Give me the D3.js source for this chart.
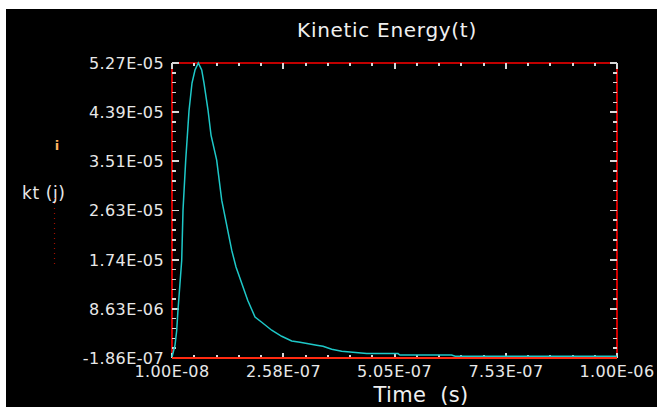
<!DOCTYPE html>
<html>
<head>
<meta charset="utf-8">
<script src="https://cdnjs.cloudflare.com/ajax/libs/d3/7.8.5/d3.min.js"></script>
<style>
  body { margin: 0; background: #ffffff; }
  svg { display: block; }
  text { font-family: "DejaVu Sans", Verdana, sans-serif; }
</style>
</head>
<body>
<div class="chart"></div>
<script>
// kinetic energy over time
var timeValues = [1.0e-8, 1.67e-8, 2.05e-8, 2.33e-8, 3.16e-8, 3.45e-8, 4.05e-8, 4.78e-8, 5.45e-8,
                  6.12e-8, 6.85e-8, 7.61e-8, 8.12e-8, 9.01e-8, 9.68e-8, 1.094e-7, 1.206e-7,
                  1.428e-7, 1.524e-7, 1.651e-7, 1.784e-7, 1.947e-7, 2.096e-7, 2.318e-7, 2.54e-7,
                  2.763e-7, 2.948e-7, 3.319e-7, 3.459e-7, 3.653e-7, 3.875e-7, 4.432e-7, 5.128e-7,
                  5.17e-7, 6.32e-7, 6.40e-7, 1.0e-6];
var energyValues = [0, 2.09e-6, 4.79e-6, 8.37e-6, 1.735e-5, 2.632e-5, 3.529e-5, 4.409e-5, 4.911e-5,
                    5.145e-5, 5.27e-5, 5.145e-5, 4.911e-5, 4.427e-5, 3.978e-5, 3.529e-5, 2.811e-5,
                    1.914e-5, 1.614e-5, 1.322e-5, 1.017e-5, 7.17e-6, 6.22e-6, 4.79e-6, 3.71e-6,
                    2.86e-6, 2.63e-6, 2.09e-6, 1.91e-6, 1.38e-6, 1.02e-6, 0.60e-6, 0.60e-6,
                    0.35e-6, 0.35e-6, 0.12e-6, 0.12e-6];

var xTickLabels = ["1.00E-08", "2.58E-07", "5.05E-07", "7.53E-07", "1.00E-06"];
var yTickLabels = ["-1.86E-07", "8.63E-06", "1.74E-05", "2.63E-05", "3.51E-05", "4.39E-05", "5.27E-05"];

var xTicks = xTickLabels.map(Number);
var yTicks = yTickLabels.map(Number);

var W = 657, H = 407;
var pLeft = 172, pRight = 617, pTop = 63, pBottom = 358;

var svg = d3.select(".chart").append("svg")
    .attr("width", W)
    .attr("height", H);

svg.append("rect")
    .attr("x", 6).attr("y", 9)
    .attr("width", W - 6).attr("height", H - 9)
    .attr("fill", "#000000");

var x = d3.scaleLinear()
    .domain([xTicks[0], xTicks[xTicks.length - 1]])
    .range([pLeft, pRight]);

var y = d3.scaleLinear()
    .domain([yTicks[0], yTicks[yTicks.length - 1]])
    .range([pBottom, pTop]);

// minor ticks between the majors
function minors(ticks, n)
{
    var out = [];
    for (var i = 0; i < ticks.length - 1; i++)
        for (var j = 1; j < n; j++)
            out.push(ticks[i] + (ticks[i + 1] - ticks[i]) * j / n);
    return out;
}
var xMinor = minors(xTicks, 5);
var yMinor = minors(yTicks, 5);

// frame
var frame = svg.append("g").attr("shape-rendering", "crispEdges");
frame.append("line").attr("x1", pLeft).attr("x2", pRight).attr("y1", pTop).attr("y2", pTop)
    .attr("stroke", "#c00000").attr("stroke-width", 2);
frame.append("line").attr("x1", pRight).attr("x2", pRight).attr("y1", pTop).attr("y2", pBottom)
    .attr("stroke", "#d00000").attr("stroke-width", 2);
frame.append("line").attr("x1", pLeft).attr("x2", pLeft).attr("y1", pTop).attr("y2", pBottom)
    .attr("stroke", "#d00000").attr("stroke-width", 2);

// tick marks
var tickColor = "#d8d8d8";
function tickMarks(vals, len, side)
{
    frame.selectAll(null)
        .data(vals)
        .enter()
            .append("line")
            .attr("stroke", tickColor)
            .attr("stroke-width", side == "top" || side == "bottom" ? 2 : 1.5)
            .attr("x1", function (d) { return side == "left" ? pLeft : side == "right" ? pRight : x(d); })
            .attr("x2", function (d) { return side == "left" ? pLeft + len : side == "right" ? pRight - len : x(d); })
            .attr("y1", function (d) { return side == "top" ? pTop : side == "bottom" ? pBottom : y(d); })
            .attr("y2", function (d) { return side == "top" ? pTop + len : side == "bottom" ? pBottom - len : y(d); });
}
tickMarks(yMinor, 4, "left");
tickMarks(yTicks, 7, "left");
tickMarks(yMinor, 4, "right");
tickMarks(yTicks, 7, "right");
tickMarks(xMinor, 3, "top");
tickMarks(xTicks, 6, "top");
tickMarks(xMinor, 3, "bottom");
tickMarks(xTicks, 5, "bottom");

// curve
var line = d3.line()
    .x(function (d) { return x(d[0]); })
    .y(function (d) { return y(d[1]); });

svg.append("path")
    .datum(d3.zip(timeValues, energyValues))
    .attr("d", line)
    .attr("fill", "none")
    .attr("stroke", "#1ec8c8")
    .attr("stroke-width", 1.5);

// bottom axis line on top
svg.append("line")
    .attr("x1", pLeft).attr("x2", pRight).attr("y1", pBottom).attr("y2", pBottom)
    .attr("stroke", "#ff2a10").attr("stroke-width", 2)
    .attr("shape-rendering", "crispEdges");

// tick labels
svg.selectAll(".ylab")
    .data(yTicks)
    .enter()
        .append("text")
        .attr("class", "ylab")
        .attr("x", 164)
        .attr("y", function (d) { return y(d); })
        .attr("dy", "0.36em")
        .attr("text-anchor", "end")
        .attr("fill", "#e8e8e8")
        .style("font-size", "16px")
        .style("letter-spacing", "0.4px")
        .text(function (d, i) { return yTickLabels[i]; });

svg.selectAll(".xlab")
    .data(xTicks)
    .enter()
        .append("text")
        .attr("class", "xlab")
        .attr("x", function (d) { return x(d); })
        .attr("y", 377)
        .attr("text-anchor", "middle")
        .attr("fill", "#e8e8e8")
        .style("font-size", "16px")
        .style("letter-spacing", "0.4px")
        .text(function (d, i) { return xTickLabels[i]; });

// titles
svg.append("text")
    .attr("x", 387).attr("y", 37)
    .attr("text-anchor", "middle")
    .attr("fill", "#f0f0f0")
    .style("font-size", "20px")
    .style("letter-spacing", "0.7px")
    .text("Kinetic Energy(t)");

svg.append("text")
    .attr("x", 421).attr("y", 402)
    .attr("text-anchor", "middle")
    .attr("fill", "#f0f0f0")
    .style("font-size", "21px")
    .style("letter-spacing", "0.3px")
    .style("white-space", "pre")
    .text("Time  (s)");

svg.append("text")
    .attr("x", 22).attr("y", 199)
    .attr("fill", "#e8e8e8")
    .style("font-size", "17px")
    .style("letter-spacing", "0.6px")
    .text("kt (j)");

// little legend marker left of the y title
svg.append("text")
    .attr("x", 57).attr("y", 150)
    .attr("text-anchor", "middle")
    .attr("fill", "#ffb060")
    .style("font-size", "13px")
    .style("font-weight", "bold")
    .text("i");

svg.append("line")
    .attr("x1", 54.5).attr("x2", 54.5).attr("y1", 198).attr("y2", 266)
    .attr("stroke", "#a01000").attr("stroke-width", 1.2)
    .attr("stroke-dasharray", "1,4");
</script>
</body>
</html>
